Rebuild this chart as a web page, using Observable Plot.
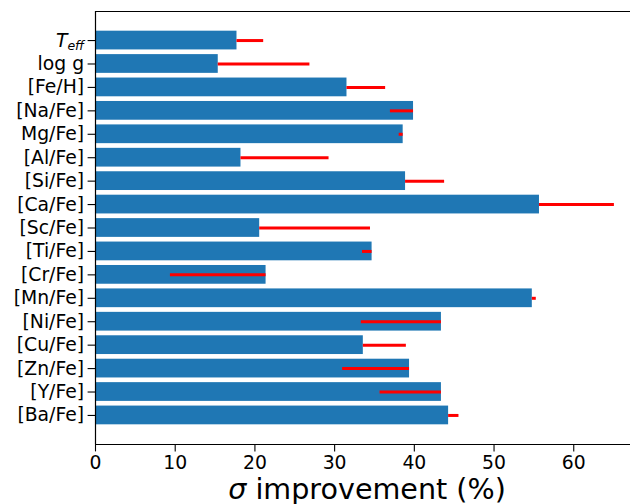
<!DOCTYPE html>
<html>
<head>
<meta charset="utf-8">
<script src="https://cdn.jsdelivr.net/npm/d3@7"></script>
<script src="https://cdn.jsdelivr.net/npm/@observablehq/plot@0.6"></script>
<style>
  html, body { margin: 0; padding: 0; background: #fff; }
  #chart svg { display: block; }
</style>
</head>
<body>
<div id="chart"></div>
<script>
const labels = ["T_eff", "log g", "[Fe/H]", "[Na/Fe]", "Mg/Fe]", "[Al/Fe]", "[Si/Fe]", "[Ca/Fe]", "[Sc/Fe]", "[Ti/Fe]", "[Cr/Fe]", "[Mn/Fe]", "[Ni/Fe]", "[Cu/Fe]", "[Zn/Fe]", "[Y/Fe]", "[Ba/Fe]"];
const improvement = [17.75, 15.4, 31.55, 39.9, 38.6, 18.25, 38.9, 55.7, 20.6, 34.7, 21.4, 54.8, 43.4, 33.6, 39.4, 43.4, 44.3];
const otherEnd = [21.1, 26.9, 36.4, 37.0, 38.1, 29.3, 43.8, 65.1, 34.5, 33.5, 9.4, 55.3, 33.35, 39.0, 31.0, 35.7, 45.6];
const xTicks = [0, 10, 20, 30, 40, 50, 60];
const xLabel = "σ improvement (%)";

const data = labels.map((l, i) => ({i, label: l, v: improvement[i], o: otherEnd[i]}));
const n = labels.length;
const barH = 0.8;
const pad = (n - 1 + barH) * 0.05;
const yTop = -barH / 2 - pad, yBottom = n - 1 + barH / 2 + pad;

const plot = Plot.plot({
  width: 630,
  height: 504,
  marginLeft: 95,
  marginRight: 0,
  marginTop: 11,
  marginBottom: 60,
  style: {fontFamily: "DejaVu Sans, sans-serif", fontSize: "18.8px", color: "#000", background: "#fff"},
  x: {domain: [0, 67.12]},
  y: {domain: [yBottom, yTop]},
  marks: [
    Plot.rectX(data, {x1: 0, x2: "v", y1: d => d.i - barH / 2, y2: d => d.i + barH / 2, fill: "#1f77b4"}),
    Plot.ruleY(data, {y: "i", x1: "v", x2: "o", stroke: "#ff0000", strokeWidth: 3}),
    Plot.ruleX([0], {y1: yTop, y2: yBottom, stroke: "#000", strokeWidth: 1.2}),
    Plot.ruleY([yTop, yBottom], {stroke: "#000", strokeWidth: 1.2}),
    Plot.axisX({ticks: xTicks, tickSize: 7.4, tickPadding: 4, label: null, fontSize: 18.8, strokeWidth: 1.1}),
    Plot.axisY({ticks: data.map(d => d.i), tickFormat: i => labels[i], tickSize: 7.4, tickPadding: 4, label: null, fontSize: 18.8, strokeWidth: 1.1}),
    Plot.text([xLabel], {frameAnchor: "bottom", lineAnchor: "bottom", dy: 54, dx: 4, fontSize: 28.6, fill: "#000"})
  ]
});

document.getElementById("chart").appendChild(plot);

const ns = "http://www.w3.org/2000/svg";
// Render T_eff with italic T and subscript "eff"
plot.querySelectorAll('g[aria-label="y-axis tick label"] text').forEach(t => {
  if (t.textContent === "T_eff") {
    t.textContent = "";
    const a = document.createElementNS(ns, "tspan");
    a.setAttribute("font-style", "italic");
    a.textContent = "T";
    const b = document.createElementNS(ns, "tspan");
    b.setAttribute("font-style", "italic");
    b.setAttribute("font-size", "12.5px");
    b.setAttribute("dy", "3.5");
    b.textContent = "eff";
    t.appendChild(a);
    t.appendChild(b);
  }
});
// Italic sigma in the x label
plot.querySelectorAll('text').forEach(t => {
  if (t.textContent === xLabel) {
    t.textContent = "";
    const a = document.createElementNS(ns, "tspan");
    a.setAttribute("font-style", "italic");
    a.textContent = "σ";
    const b = document.createElementNS(ns, "tspan");
    b.textContent = xLabel.slice(1);
    t.appendChild(a);
    t.appendChild(b);
  }
});
</script>
</body>
</html>
